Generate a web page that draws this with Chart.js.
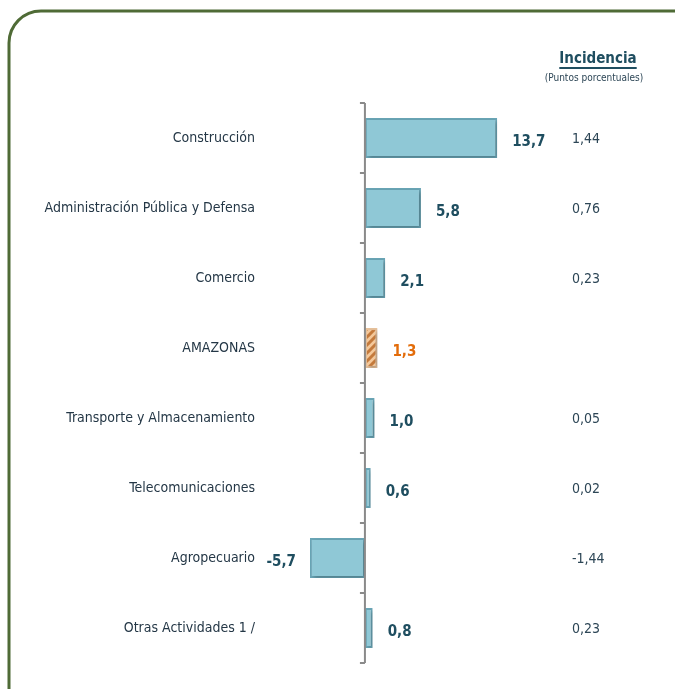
<!DOCTYPE html>
<html>
<head>
<meta charset="utf-8">
<script src="https://cdn.jsdelivr.net/npm/chart.js@4.4.1/dist/chart.umd.min.js"></script>
<style>
  html, body { margin: 0; padding: 0; background: #fff; overflow: hidden; }
  #wrap { position: relative; width: 675px; height: 689px; }
</style>
</head>
<body>
<div id="wrap"><canvas id="sectorChart" width="675" height="689"></canvas></div>
<script>
const categorias = ['Construcción', 'Administración Pública y Defensa', 'Comercio', 'AMAZONAS',
    'Transporte y Almacenamiento', 'Telecomunicaciones', 'Agropecuario', 'Otras Actividades 1 /'];
const variacion = [13.7, 5.8, 2.1, 1.3, 1.0, 0.6, -5.7, 0.8];
const incidencia = ['1,44', '0,76', '0,23', '', '0,05', '0,02', '-1,44', '0,23'];

const FONT = "'Liberation Sans Narrow', 'DejaVu Sans Condensed', 'Noto Sans', sans-serif";
const AMAZONAS_IDX = categorias.indexOf('AMAZONAS');

// hachurado naranja para el total departamental
function hatchPattern() {
    const c = document.createElement('canvas');
    c.width = 8; c.height = 8;
    const g = c.getContext('2d');
    g.fillStyle = '#f4c89a';
    g.fillRect(0, 0, 8, 8);
    g.strokeStyle = '#c47a3c';
    g.lineWidth = 3;
    g.beginPath();
    g.moveTo(-2, 10); g.lineTo(10, -2);
    g.moveTo(-2, 2); g.lineTo(2, -2);
    g.moveTo(6, 10); g.lineTo(10, 6);
    g.stroke();
    return g.createPattern(c, 'repeat');
}
const hatch = hatchPattern();

const fmt = v => v.toFixed(1).replace('.', ',');

const decoPlugin = {
    id: 'deco',
    beforeDraw(chart) {
        const ctx = chart.ctx;
        ctx.save();
        // marco redondeado
        ctx.strokeStyle = '#4f6b36';
        ctx.lineWidth = 3;
        ctx.beginPath();
        ctx.roundRect(9, 11, 720, 740, 32);
        ctx.stroke();
        ctx.restore();
    },
    beforeDatasetsDraw(chart) {
        const ctx = chart.ctx;
        ctx.save();
        ctx.shadowColor = 'rgba(0,0,0,0.25)';
        ctx.shadowBlur = 4;
        ctx.shadowOffsetX = 2;
        ctx.shadowOffsetY = 2;
    },
    afterDatasetsDraw(chart) {
        const ctx = chart.ctx;
        ctx.restore();
        const xs = chart.scales.x, ys = chart.scales.y;
        const x0 = xs.getPixelForValue(0);
        ctx.save();
        // eje vertical con marcas
        ctx.strokeStyle = '#8a8a8a';
        ctx.lineWidth = 2;
        ctx.beginPath();
        ctx.moveTo(x0, ys.top);
        ctx.lineTo(x0, ys.bottom);
        for (let i = 0; i <= categorias.length; i++) {
            const y = ys.getPixelForValue(i - 0.5);
            ctx.moveTo(x0 - 5, y);
            ctx.lineTo(x0, y);
        }
        ctx.stroke();

        // etiquetas de valores
        const meta = chart.getDatasetMeta(0);
        ctx.font = 'bold 15px ' + FONT;
        ctx.textBaseline = 'middle';
        meta.data.forEach((bar, i) => {
            const v = variacion[i];
            ctx.fillStyle = i === AMAZONAS_IDX ? '#e36c0a' : '#1f4e60';
            if (v >= 0) {
                ctx.textAlign = 'left';
                ctx.fillText(fmt(v), bar.x + 15, bar.y + 4);
            } else {
                ctx.textAlign = 'right';
                ctx.fillText(fmt(v), bar.x - 14, bar.y + 4);
            }
        });

        // columna de incidencia
        ctx.font = '14px ' + FONT;
        ctx.fillStyle = '#2d4656';
        ctx.textAlign = 'left';
        incidencia.forEach((t, i) => {
            if (t) ctx.fillText(t, 572, ys.getPixelForValue(i) + 1);
        });

        // encabezado
        ctx.textAlign = 'center';
        ctx.fillStyle = '#1f4e60';
        ctx.font = 'bold 15px ' + FONT;
        ctx.fillText('Incidencia', 598, 59);
        const w = ctx.measureText('Incidencia').width;
        ctx.fillRect(598 - w / 2, 67, w, 2);
        ctx.font = '10px ' + FONT;
        ctx.fillStyle = '#2d4656';
        ctx.fillText('(Puntos porcentuales)', 594, 78);
        ctx.restore();
    }
};

new Chart(document.getElementById('sectorChart'), {
    type: 'bar',
    data: {
        labels: categorias,
        datasets: [{
            data: variacion,
            backgroundColor: categorias.map((c, i) => i === AMAZONAS_IDX ? hatch : '#8fc8d6'),
            borderColor: categorias.map((c, i) => i === AMAZONAS_IDX ? '#e8c29c' : '#6aa6b7'),
            borderWidth: 2,
            borderSkipped: false,
            barPercentage: 0.57,
            categoryPercentage: 1.0
        }]
    },
    options: {
        indexAxis: 'y',
        responsive: false,
        animation: false,
        layout: { padding: { top: 103, bottom: 26, left: 0, right: 117 } },
        plugins: { legend: { display: false }, tooltip: { enabled: false } },
        scales: {
            x: { display: false, min: -6, max: 20 },
            y: {
                grid: { display: false, drawTicks: false },
                border: { display: false },
                afterFit: scale => {
                    scale.width = 307;
                    scale.paddingTop = 0;
                    scale.paddingBottom = 0;
                },
                ticks: {
                    padding: 52,
                    color: '#243746',
                    font: { family: FONT, size: 14 }
                }
            }
        }
    },
    plugins: [decoPlugin]
});
</script>
</body>
</html>
